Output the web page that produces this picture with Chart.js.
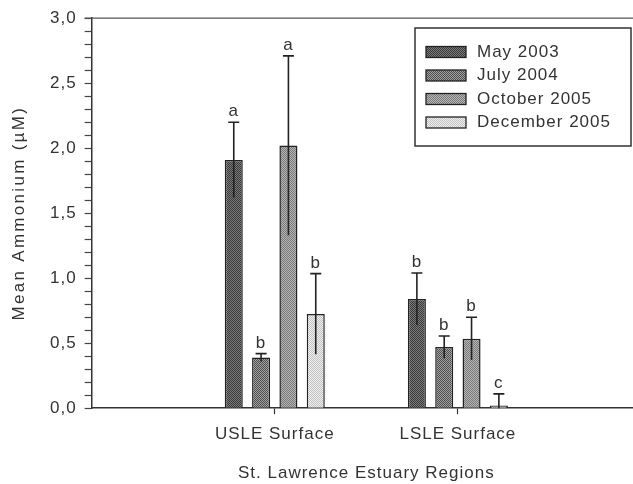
<!DOCTYPE html>
<html><head><meta charset="utf-8">
<script src="https://cdn.jsdelivr.net/npm/chart.js@4/dist/chart.umd.min.js"></script>
<style>html,body{margin:0;padding:0;background:#fff;overflow:hidden;width:633px;height:484px}#wrap{width:651px;height:484px;position:relative}canvas{display:block;width:651px;height:484px}</style>
</head><body><div id="wrap"><canvas id="c" width="651" height="484"></canvas></div>
<script>
// ---- data ----
const categories = ['', 'USLE Surface', 'LSLE Surface', ''];
const seriesNames = ['May 2003', 'July 2004', 'October 2005', 'December 2005'];
const may2003 = [1.91, 0.84];
const may2003SD = [0.29, 0.20];
const may2003Letters = ['a', 'b'];
const july2004 = [0.39, 0.47];
const july2004SD = [0.03, 0.085];
const july2004Letters = ['b', 'b'];
const october2005 = [2.02, 0.535];
const october2005SD = [0.69, 0.165];
const october2005Letters = ['a', 'b'];
const december2005 = [0.725, 0.02];
const december2005SD = [0.31, 0.09];
const december2005Letters = ['b', 'c'];
const yTickLabels = ['0,0', '0,5', '1,0', '1,5', '2,0', '2,5', '3,0'];
const xTitle = 'St. Lawrence Estuary Regions';
const yTitle = 'Mean Ammonium (µM)';

const series = [
  {name: seriesNames[0], values: may2003, sd: may2003SD, letters: may2003Letters, colors: ['#3a3a3a', '#7a7a7a']},
  {name: seriesNames[1], values: july2004, sd: july2004SD, letters: july2004Letters, colors: ['#4e4e4e', '#a2a2a2']},
  {name: seriesNames[2], values: october2005, sd: october2005SD, letters: october2005Letters, colors: ['#7a7a7a', '#b4b4b4']},
  {name: seriesNames[3], values: december2005, sd: december2005SD, letters: december2005Letters, colors: ['#c2c2c2', '#efefef']}
];

const FONT = '"Liberation Sans", Arial, sans-serif';
const FS = 17;
const TXT = '#333';
const LS = '1px';

function makePattern(c1, c2) {
  const p = document.createElement('canvas');
  p.width = 2; p.height = 2;
  const g = p.getContext('2d');
  g.fillStyle = c2; g.fillRect(0, 0, 2, 2);
  g.fillStyle = c1; g.fillRect(0, 0, 1, 1); g.fillRect(1, 1, 1, 1);
  return document.getElementById('c').getContext('2d').createPattern(p, 'repeat');
}
series.forEach(s => s.pattern = makePattern(s.colors[0], s.colors[1]));

const spacingPlugin = {
  id: 'spacing',
  beforeUpdate(chart) { chart.ctx.letterSpacing = LS; },
  beforeDraw(chart) { chart.ctx.letterSpacing = LS; }
};

const extrasPlugin = {
  id: 'extras',
  afterDatasetsDraw(chart) {
    const ctx = chart.ctx, y = chart.scales.y, area = chart.chartArea;
    ctx.save();
    ctx.letterSpacing = LS;
    series.forEach((s, i) => {
      const meta = chart.getDatasetMeta(i);
      s.values.forEach((v, j) => {
        const bar = meta.data[j + 1];
        const x = bar.x;
        const top = y.getPixelForValue(v + s.sd[j]);
        const bot = y.getPixelForValue(Math.max(0, v - s.sd[j]));
        ctx.strokeStyle = '#222';
        ctx.lineWidth = 1.6;
        ctx.beginPath();
        ctx.moveTo(x, bot); ctx.lineTo(x, top);
        ctx.moveTo(x - 5.5, top); ctx.lineTo(x + 5.5, top);
        ctx.stroke();
        ctx.fillStyle = TXT;
        ctx.font = FS + 'px ' + FONT;
        ctx.textAlign = 'center';
        ctx.textBaseline = 'alphabetic';
        ctx.fillText(s.letters[j], x, top - 6);
      });
    });
    // top frame line
    ctx.strokeStyle = '#555';
    ctx.lineWidth = 1.2;
    ctx.beginPath();
    ctx.moveTo(area.left - 7, area.top); ctx.lineTo(chart.width, area.top);
    ctx.stroke();
    // y title
    ctx.save();
    ctx.letterSpacing = '2.3px';
    ctx.translate(19, (area.top + area.bottom) / 2);
    ctx.rotate(-Math.PI / 2);
    ctx.fillStyle = TXT;
    ctx.font = FS + 'px ' + FONT;
    ctx.textAlign = 'center';
    ctx.textBaseline = 'middle';
    ctx.fillText(yTitle, 0, 0);
    ctx.restore();
    // legend
    const lx = 415, ly = 28, lw = 216, lh = 118;
    ctx.fillStyle = '#fff';
    ctx.fillRect(lx, ly, lw, lh);
    ctx.strokeStyle = '#333';
    ctx.lineWidth = 1.5;
    ctx.strokeRect(lx, ly, lw, lh);
    const rows = [52, 75.5, 99, 122.5];
    series.forEach((s, i) => {
      const cy = rows[i];
      ctx.fillStyle = s.pattern;
      ctx.fillRect(426, cy - 5.5, 40, 11);
      ctx.strokeStyle = '#222';
      ctx.lineWidth = 1.3;
      ctx.strokeRect(426, cy - 5.5, 40, 11);
      ctx.fillStyle = TXT;
      ctx.font = FS + 'px ' + FONT;
      ctx.textAlign = 'left';
      ctx.textBaseline = 'middle';
      ctx.fillText(s.name, 477, cy);
    });
    ctx.restore();
  }
};

new Chart(document.getElementById('c'), {
  type: 'bar',
  data: {
    labels: categories,
    datasets: series.map(s => ({
      label: s.name,
      data: [null, s.values[0], s.values[1], null],
      backgroundColor: s.pattern,
      borderColor: '#222',
      borderWidth: 1.5,
      categoryPercentage: 0.597,
      barPercentage: 0.66
    }))
  },
  options: {
    responsive: false,
    animation: false,
    devicePixelRatio: 1,
    layout: {padding: {left: 42, top: 14, right: 0, bottom: 0}},
    plugins: {legend: {display: false}, tooltip: {enabled: false}},
    scales: {
      x: {
        offset: false,
        grid: {
          offset: false,
          drawOnChartArea: false, tickLength: 6, tickWidth: 1.2,
          tickColor: c => (c.index === 1 || c.index === 2) ? '#333' : 'rgba(0,0,0,0)'
        },
        border: {color: '#333', width: 1.5},
        ticks: {font: {family: FONT, size: FS}, color: TXT, padding: 10, autoSkip: false, maxRotation: 0},
        title: {display: true, text: xTitle, font: {family: FONT, size: FS}, color: TXT, padding: {top: 9, bottom: 0}}
      },
      y: {
        min: 0, max: 3,
        grid: {drawOnChartArea: false, tickLength: 7, tickWidth: 1.2, tickColor: '#444'},
        border: {color: '#333', width: 1.5},
        ticks: {
          stepSize: 0.1, autoSkip: false, padding: 8,
          font: {family: FONT, size: FS}, color: TXT,
          callback: v => {
            const k = Math.round(v * 2);
            return Math.abs(v * 2 - k) < 1e-6 ? yTickLabels[k] : '';
          }
        },
        title: {display: false}
      }
    }
  },
  plugins: [spacingPlugin, extrasPlugin]
});
</script></body></html>
